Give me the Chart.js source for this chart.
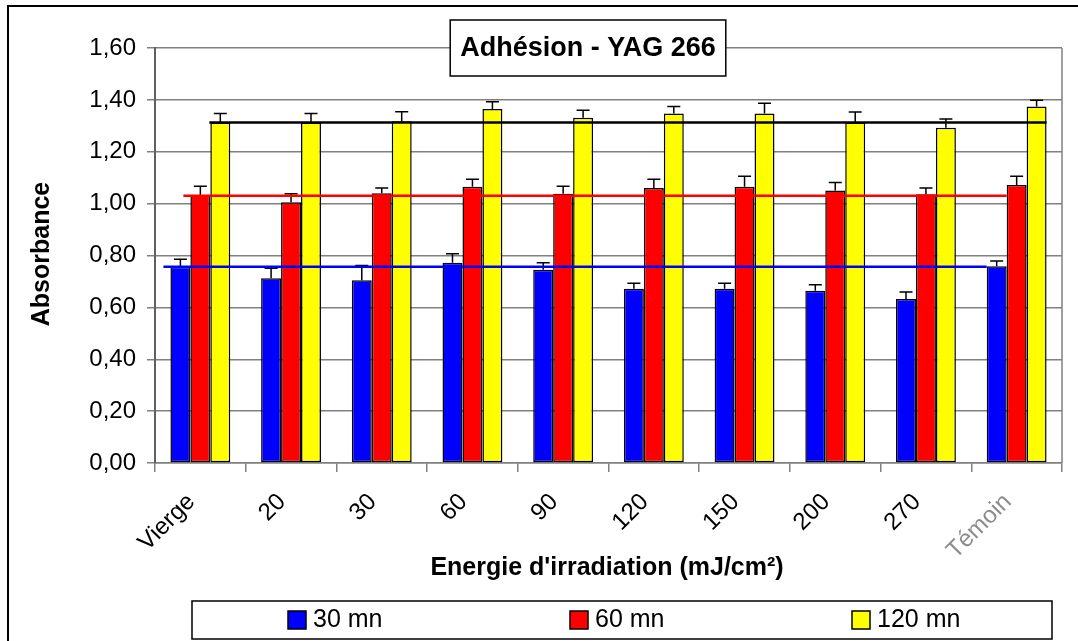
<!DOCTYPE html>
<html>
<head>
<meta charset="utf-8">
<script src="https://cdn.jsdelivr.net/npm/chart.js@4/dist/chart.umd.min.js"></script>
<style>
  html, body { margin: 0; padding: 0; background: #fff; }
  #wrap { width: 1078px; height: 641px; }
</style>
</head>
<body>
<div id="wrap"><canvas id="adhesionChart" width="1078" height="641"></canvas></div>
<script>
// Données
const categories = ['Vierge', '20', '30', '60', '90', '120', '150', '200', '270', 'Témoin'];
const seriesLabels = ['30 mn', '60 mn', '120 mn'];
const val30 = [0.757, 0.712, 0.705, 0.772, 0.745, 0.672, 0.672, 0.664, 0.632, 0.759];
const val60 = [1.033, 1.005, 1.040, 1.065, 1.038, 1.060, 1.065, 1.051, 1.036, 1.072];
const val120 = [1.313, 1.313, 1.318, 1.365, 1.331, 1.347, 1.347, 1.313, 1.293, 1.374];
const err30 = [0.029, 0.039, 0.056, 0.035, 0.027, 0.021, 0.021, 0.023, 0.027, 0.020];
const err60 = [0.034, 0.033, 0.020, 0.029, 0.029, 0.034, 0.041, 0.030, 0.024, 0.034];
const err120 = [0.034, 0.034, 0.036, 0.028, 0.029, 0.027, 0.040, 0.040, 0.033, 0.025];
// lignes de référence (niveau du témoin vierge)
const refLevels = [0.757, 1.030, 1.313];
const yTicks = [0, 0.2, 0.4, 0.6, 0.8, 1.0, 1.2, 1.4, 1.6];

const FONT = 'Arial, "Liberation Sans", sans-serif';
const colors = ['#0000FF', '#FF0000', '#FFFF00'];
const refColors = ['#0000FF', '#FF0000', '#000000'];

// Barres d'erreur (seulement vers le haut, comme sur l'original)
const errorBarsPlugin = {
    id: 'errorBars',
    afterDatasetsDraw(chart) {
        const ctx = chart.ctx;
        const yScale = chart.scales.y;
        const errs = [err30, err60, err120];
        ctx.save();
        ctx.strokeStyle = '#000';
        ctx.lineWidth = 1.5;
        chart.data.datasets.forEach((ds, i) => {
            const meta = chart.getDatasetMeta(i);
            meta.data.forEach((bar, j) => {
                const yTop = yScale.getPixelForValue(ds.data[j] + errs[i][j]);
                ctx.beginPath();
                ctx.moveTo(bar.x, bar.y);
                ctx.lineTo(bar.x, yTop);
                ctx.moveTo(bar.x - 6.5, yTop);
                ctx.lineTo(bar.x + 6.5, yTop);
                ctx.stroke();
            });
        });
        ctx.restore();
    }
};

// Lignes horizontales de référence
const refLinesPlugin = {
    id: 'refLines',
    afterDatasetsDraw(chart) {
        const ctx = chart.ctx;
        const yScale = chart.scales.y;
        ctx.save();
        ctx.lineWidth = 2.5;
        refLevels.forEach((lvl, i) => {
            const meta = chart.getDatasetMeta(i);
            const first = meta.data[0];
            const last = meta.data[meta.data.length - 1];
            const x0 = first.x - first.width / 2 - (i === 2 ? 1 : 7);
            const x1 = i === 2 ? last.x + last.width / 2 : last.x - last.width / 2;
            const y = yScale.getPixelForValue(lvl);
            ctx.strokeStyle = refColors[i];
            ctx.beginPath();
            ctx.moveTo(x0, y);
            ctx.lineTo(x1, y);
            ctx.stroke();
        });
        ctx.restore();
    }
};

// Cadre, titres, légende style Excel
const decorPlugin = {
    id: 'decor',
    beforeDraw(chart) {
        const ctx = chart.ctx;
        ctx.save();
        ctx.fillStyle = '#fff';
        ctx.fillRect(0, 0, chart.width, chart.height);
        ctx.restore();
    },
    afterDraw(chart) {
        const ctx = chart.ctx;
        const area = chart.chartArea;
        ctx.save();

        // bord droit de la zone de tracé
        ctx.strokeStyle = '#808080';
        ctx.lineWidth = 1.5;
        ctx.beginPath();
        ctx.moveTo(area.right, area.top);
        ctx.lineTo(area.right, area.bottom);
        ctx.stroke();

        // cadre extérieur (gauche + haut)
        ctx.strokeStyle = '#000';
        ctx.lineWidth = 2;
        ctx.beginPath();
        ctx.moveTo(8, chart.height);
        ctx.lineTo(8, 6);
        ctx.lineTo(chart.width, 6);
        ctx.stroke();

        // titre encadré
        const title = 'Adhésion - YAG 266';
        ctx.font = 'bold 27px ' + FONT;
        const tw = ctx.measureText(title).width;
        const cx = 588, cy = 48;
        ctx.fillStyle = '#fff';
        ctx.fillRect(cx - tw / 2 - 10, 20, tw + 20, 56);
        ctx.strokeStyle = '#000';
        ctx.lineWidth = 1.5;
        ctx.strokeRect(cx - tw / 2 - 10, 20, tw + 20, 56);
        ctx.fillStyle = '#000';
        ctx.textAlign = 'center';
        ctx.textBaseline = 'middle';
        ctx.fillText(title, cx, cy + 1);

        // titre axe Y
        ctx.font = 'bold 25px ' + FONT;
        ctx.save();
        ctx.translate(42, 254);
        ctx.rotate(-Math.PI / 2);
        ctx.fillText('Absorbance', 0, 0);
        ctx.restore();

        // titre axe X
        ctx.fillText("Energie d'irradiation (mJ/cm²)", 607, 568);

        // légende
        ctx.lineWidth = 1.5;
        ctx.strokeRect(192, 601, 860, 38);
        const legendX = [288, 570, 852];
        ctx.font = '25px ' + FONT;
        ctx.textAlign = 'left';
        chart.data.datasets.forEach((ds, i) => {
            ctx.fillStyle = ds.backgroundColor;
            ctx.fillRect(legendX[i], 611, 18, 18);
            ctx.strokeStyle = '#000';
            ctx.strokeRect(legendX[i], 611, 18, 18);
            ctx.fillStyle = '#000';
            ctx.fillText(ds.label, legendX[i] + 25, 620);
        });
        ctx.restore();
    }
};

const values = [val30, val60, val120];
const datasets = seriesLabels.map((label, i) => ({
    label: label,
    data: values[i],
    backgroundColor: colors[i],
    borderColor: '#000',
    borderWidth: 1.5,
    borderSkipped: false,
    barPercentage: 1.0,
    categoryPercentage: 0.66
}));

new Chart(document.getElementById('adhesionChart'), {
    type: 'bar',
    data: { labels: categories, datasets: datasets },
    options: {
        responsive: false,
        animation: false,
        layout: { padding: { top: 48, right: 16, left: 0, bottom: 0 } },
        plugins: {
            legend: { display: false },
            title: { display: false },
            tooltip: { enabled: false }
        },
        scales: {
            x: {
                offset: true,
                grid: {
                    drawOnChartArea: false,
                    drawTicks: true,
                    tickLength: 9,
                    color: '#808080',
                    lineWidth: 1.5
                },
                border: { color: '#808080', width: 1.5 },
                ticks: {
                    font: { family: FONT, size: 24 },
                    color: (c) => c.index === 9 ? '#8c8c8c' : '#000',
                    maxRotation: 45,
                    minRotation: 45,
                    padding: 16,
                    labelOffset: -9
                },
                afterFit: (s) => { s.height = 178; }
            },
            y: {
                min: 0,
                max: 1.6,
                afterBuildTicks: (s) => { s.ticks = yTicks.map(v => ({ value: v })); },
                grid: {
                    color: '#808080',
                    lineWidth: 1.5,
                    tickLength: 8
                },
                border: { color: '#606060', width: 2 },
                ticks: {
                    font: { family: FONT, size: 24 },
                    color: '#000',
                    padding: 11,
                    callback: (v) => v.toFixed(2).replace('.', ',')
                },
                afterFit: (s) => { s.width = 155; }
            }
        }
    },
    plugins: [decorPlugin, errorBarsPlugin, refLinesPlugin]
});
</script>
</body>
</html>
